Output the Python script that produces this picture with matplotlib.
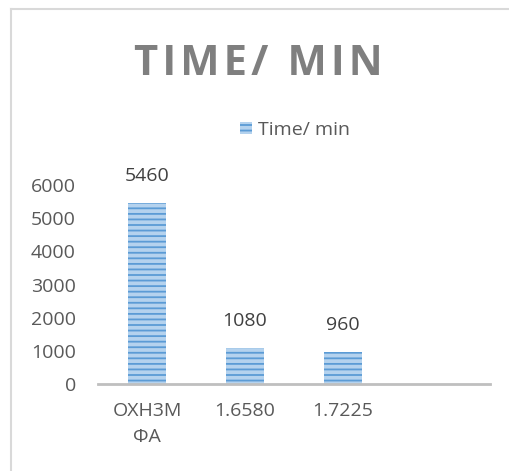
import numpy as np
import matplotlib.pyplot as plt
from matplotlib.lines import Line2D

# Data
categories = ['ОХН3М\nФА', '1.6580', '1.7225', '']
time_min = [5460, 1080, 960, np.nan]
series_name = 'Time/ min'
title = 'TIME/ MIN'

plt.rc('font', family=['Open Sans', 'DejaVu Sans'])
plt.rc('hatch', linewidth=1.3)

fig = plt.figure(figsize=(5.09, 4.71), dpi=100)
ax = fig.add_axes([0.1925, 0.1847, 0.770, 0.4225])

x = np.arange(len(categories))
bars = ax.bar(x, time_min, width=0.38, color='#b4d2ee', edgecolor='#5b9bd5',
              linewidth=0, hatch='---', label=series_name)
ax.bar_label(bars, labels=[f'{v:.0f}' if not np.isnan(v) else '' for v in time_min],
             padding=13, fontsize=14, color='#404040')

ax.set_xlim(-0.5, len(categories) - 0.5)
ax.set_ylim(0, 6000)
ax.set_yticks(np.arange(0, 6001, 1000))
ax.set_xticks(x, labels=categories)
ax.tick_params(axis='y', length=0, pad=16, labelsize=14, labelcolor='#595959')
ax.tick_params(axis='x', length=0, pad=13, labelsize=14, labelcolor='#595959')
for lbl in ax.get_xticklabels():
    lbl.set_linespacing(1.6)

for side in ['top', 'right', 'left']:
    ax.spines[side].set_visible(False)
ax.spines['bottom'].set_color('#bfbfbf')
ax.spines['bottom'].set_linewidth(2)

# spaced-out title letters
fig.text(0.507, 0.862, '\u200a'.join(title), ha='center', va='center', fontsize=30,
         fontweight='bold', color='#7f7f7f')

fig.legend(loc='center', bbox_to_anchor=(0.58, 0.724), frameon=False,
           fontsize=14, labelcolor='#595959', handlelength=0.6,
           handleheight=0.6, handletextpad=0.3)

# light chart-area border (left and top visible)
fig.add_artist(Line2D([11 / 509, 11 / 509], [0, 1 - 9 / 471], transform=fig.transFigure,
                      color='#d9d9d9', linewidth=1.5))
fig.add_artist(Line2D([11 / 509, 1], [1 - 9 / 471, 1 - 9 / 471], transform=fig.transFigure,
                      color='#d9d9d9', linewidth=1.5))

fig.savefig('out.png', dpi=100)
